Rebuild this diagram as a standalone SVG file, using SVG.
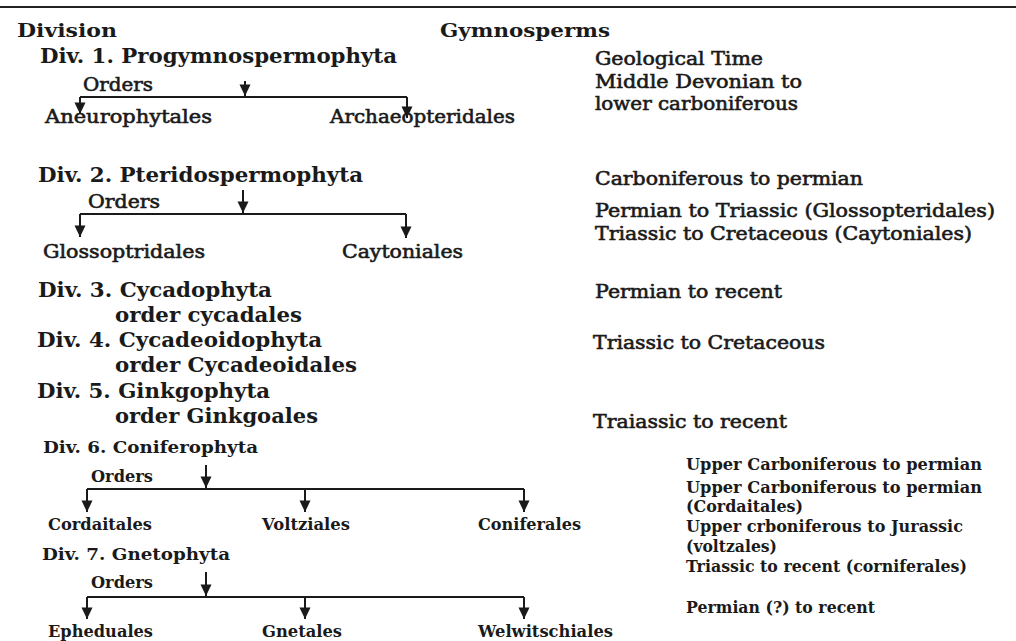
<svg xmlns="http://www.w3.org/2000/svg" width="1016" height="641" viewBox="0 0 1016 641">
<style>
text{font-family:"DejaVu Serif","Liberation Serif",serif;fill:#1a1a1a}
.h{font-size:18px;font-weight:bold}
.d{font-size:21px;font-weight:bold}
.r{font-size:18.5px;stroke:#1a1a1a;stroke-width:0.6px}
.s{font-size:17.5px;font-weight:bold}
.ln{stroke:#1a1a1a;stroke-width:2;fill:none}
</style>
<defs>
<marker id="ad" markerUnits="userSpaceOnUse" markerWidth="12" markerHeight="12" viewBox="0 0 12 12" refX="6" refY="12" orient="0">
<path d="M0.5,0.5 L11.5,0.5 L6,12 Z" fill="#1a1a1a"/>
</marker>
</defs>
<rect width="1016" height="641" fill="#fff"/>
<line x1="0" y1="7" x2="1016" y2="7" stroke="#222" stroke-width="2.2"/>

<g id="connectors">
<path class="ln" d="M245,81 V96" marker-end="url(#ad)"/>
<path class="ln" d="M80,97 H407"/>
<path class="ln" d="M80,97 V114" marker-end="url(#ad)"/>
<path class="ln" d="M407,97 V118" marker-end="url(#ad)"/>

<path class="ln" d="M243,190 V213" marker-end="url(#ad)"/>
<path class="ln" d="M80,214 H406"/>
<path class="ln" d="M80,214 V237" marker-end="url(#ad)"/>
<path class="ln" d="M406,214 V238" marker-end="url(#ad)"/>

<path class="ln" d="M206,465 V488" marker-end="url(#ad)"/>
<path class="ln" d="M87,489 H524"/>
<path class="ln" d="M87,489 V512" marker-end="url(#ad)"/>
<path class="ln" d="M305,489 V512" marker-end="url(#ad)"/>
<path class="ln" d="M524,489 V512" marker-end="url(#ad)"/>

<path class="ln" d="M206,572 V596" marker-end="url(#ad)"/>
<path class="ln" d="M87,597 H524"/>
<path class="ln" d="M87,597 V619" marker-end="url(#ad)"/>
<path class="ln" d="M305,597 V619" marker-end="url(#ad)"/>
<path class="ln" d="M524,597 V619" marker-end="url(#ad)"/>
</g>

<g id="head-division"><text class="h" x="17" y="37" textLength="100" lengthAdjust="spacingAndGlyphs">Division</text></g>
<g id="head-gymnosperms"><text class="h" x="440" y="37" textLength="170" lengthAdjust="spacingAndGlyphs">Gymnosperms</text></g>

<g id="div1"><text class="d" x="40" y="63" textLength="357" lengthAdjust="spacingAndGlyphs">Div. 1. Progymnospermophyta</text></g>
<g id="div1-orders"><text class="r" x="83" y="91" textLength="70" lengthAdjust="spacingAndGlyphs">Orders</text></g>
<g id="aneurophytales"><text class="r" x="45" y="123" textLength="167" lengthAdjust="spacingAndGlyphs">Aneurophytales</text></g>
<g id="archaeopteridales"><text class="r" x="330" y="123" textLength="185" lengthAdjust="spacingAndGlyphs">Archaeopteridales</text></g>
<g id="time1">
<text class="r" x="595" y="65" textLength="168" lengthAdjust="spacingAndGlyphs">Geological Time</text>
<text class="r" x="595" y="88" textLength="207" lengthAdjust="spacingAndGlyphs">Middle Devonian to</text>
<text class="r" x="595" y="110" textLength="203" lengthAdjust="spacingAndGlyphs">lower carboniferous</text>
</g>

<g id="div2"><text class="d" x="38" y="182" textLength="325" lengthAdjust="spacingAndGlyphs">Div. 2. Pteridospermophyta</text></g>
<g id="div2-orders"><text class="r" x="88" y="208" textLength="72" lengthAdjust="spacingAndGlyphs">Orders</text></g>
<g id="glossoptridales"><text class="r" x="43" y="258" textLength="162" lengthAdjust="spacingAndGlyphs">Glossoptridales</text></g>
<g id="caytoniales"><text class="r" x="342" y="258" textLength="121" lengthAdjust="spacingAndGlyphs">Caytoniales</text></g>
<g id="time2">
<text class="r" x="595" y="185" textLength="268" lengthAdjust="spacingAndGlyphs">Carboniferous to permian</text>
<text class="r" x="595" y="217" textLength="400" lengthAdjust="spacingAndGlyphs">Permian to Triassic (Glossopteridales)</text>
<text class="r" x="595" y="240" textLength="377" lengthAdjust="spacingAndGlyphs">Triassic to Cretaceous (Caytoniales)</text>
</g>

<g id="div3">
<text class="d" x="38" y="297" textLength="234" lengthAdjust="spacingAndGlyphs">Div. 3. Cycadophyta</text>
<text class="d" x="115" y="322" textLength="187" lengthAdjust="spacingAndGlyphs">order cycadales</text>
</g>
<g id="time3"><text class="r" x="595" y="298" textLength="187" lengthAdjust="spacingAndGlyphs">Permian to recent</text></g>

<g id="div4">
<text class="d" x="37" y="347" textLength="285" lengthAdjust="spacingAndGlyphs">Div. 4. Cycadeoidophyta</text>
<text class="d" x="115" y="372" textLength="242" lengthAdjust="spacingAndGlyphs">order Cycadeoidales</text>
</g>
<g id="time4"><text class="r" x="593" y="349" textLength="232" lengthAdjust="spacingAndGlyphs">Triassic to Cretaceous</text></g>

<g id="div5">
<text class="d" x="37" y="398" textLength="233" lengthAdjust="spacingAndGlyphs">Div. 5. Ginkgophyta</text>
<text class="d" x="115" y="423" textLength="203" lengthAdjust="spacingAndGlyphs">order Ginkgoales</text>
</g>
<g id="time5"><text class="r" x="593" y="428" textLength="194" lengthAdjust="spacingAndGlyphs">Traiassic to recent</text></g>

<g id="div6"><text class="s" x="43" y="453" textLength="215" lengthAdjust="spacingAndGlyphs">Div. 6. Coniferophyta</text></g>
<g id="div6-orders"><text class="s" x="91" y="482" textLength="62" lengthAdjust="spacingAndGlyphs">Orders</text></g>
<g id="cordaitales"><text class="s" x="48" y="530" textLength="104" lengthAdjust="spacingAndGlyphs">Cordaitales</text></g>
<g id="voltziales"><text class="s" x="262" y="530" textLength="88" lengthAdjust="spacingAndGlyphs">Voltziales</text></g>
<g id="coniferales"><text class="s" x="478" y="530" textLength="103" lengthAdjust="spacingAndGlyphs">Coniferales</text></g>

<g id="div7"><text class="s" x="42" y="560" textLength="188" lengthAdjust="spacingAndGlyphs">Div. 7. Gnetophyta</text></g>
<g id="div7-orders"><text class="s" x="91" y="588" textLength="62" lengthAdjust="spacingAndGlyphs">Orders</text></g>
<g id="epheduales"><text class="s" x="48" y="637" textLength="105" lengthAdjust="spacingAndGlyphs">Epheduales</text></g>
<g id="gnetales"><text class="s" x="262" y="637" textLength="80" lengthAdjust="spacingAndGlyphs">Gnetales</text></g>
<g id="welwitschiales"><text class="s" x="478" y="637" textLength="135" lengthAdjust="spacingAndGlyphs">Welwitschiales</text></g>

<g id="time6">
<text class="s" x="686" y="470" textLength="296" lengthAdjust="spacingAndGlyphs">Upper Carboniferous to permian</text>
<text class="s" x="686" y="493" textLength="296" lengthAdjust="spacingAndGlyphs">Upper Carboniferous to permian</text>
<text class="s" x="686" y="512" textLength="117" lengthAdjust="spacingAndGlyphs">(Cordaitales)</text>
<text class="s" x="686" y="532" textLength="277" lengthAdjust="spacingAndGlyphs">Upper crboniferous to Jurassic</text>
<text class="s" x="686" y="552" textLength="91" lengthAdjust="spacingAndGlyphs">(voltzales)</text>
<text class="s" x="686" y="572" textLength="281" lengthAdjust="spacingAndGlyphs">Triassic to recent (corniferales)</text>
</g>
<g id="time7"><text class="s" x="686" y="613" textLength="189" lengthAdjust="spacingAndGlyphs">Permian (?) to recent</text></g>
</svg>
